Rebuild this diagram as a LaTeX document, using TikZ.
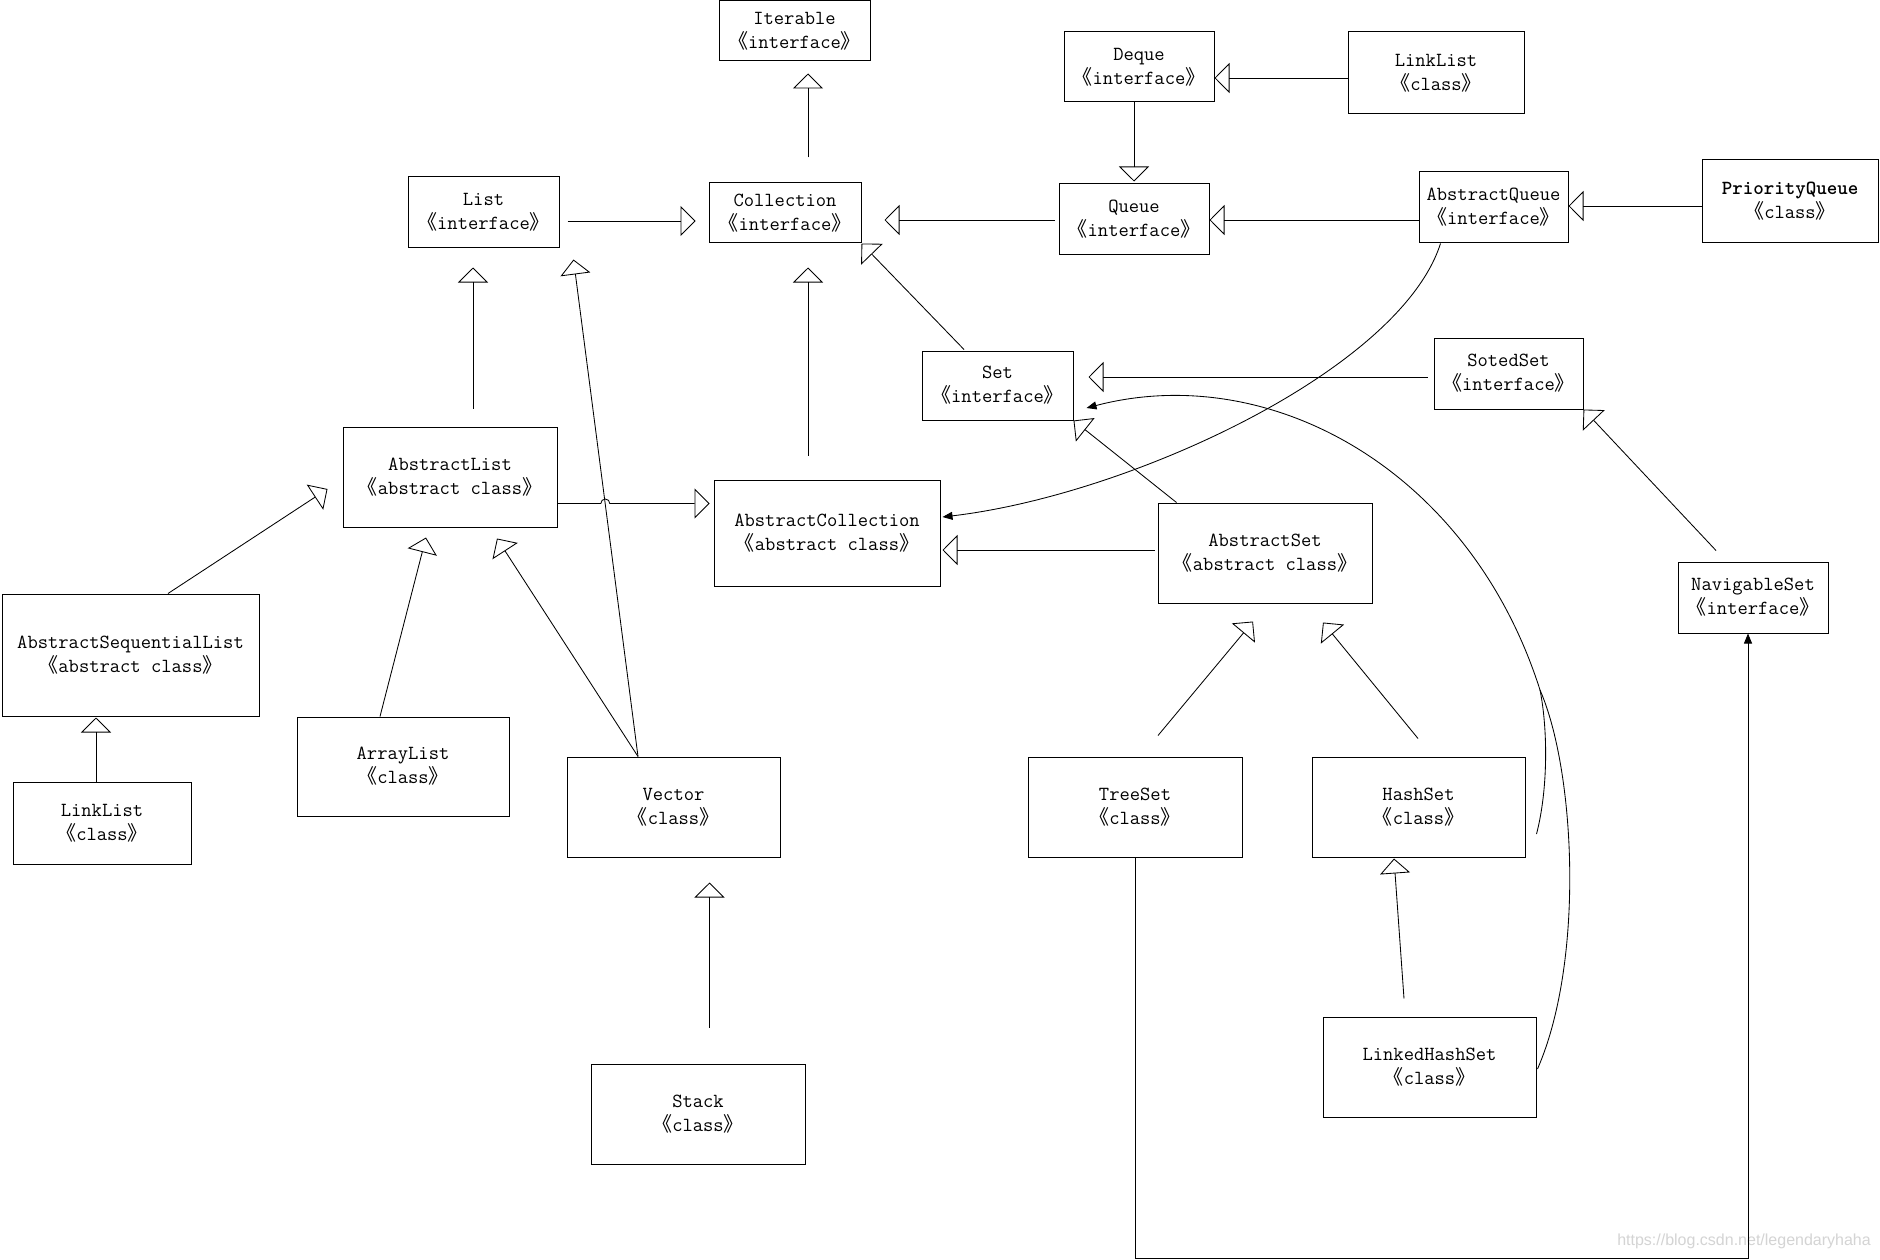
\documentclass[tikz,border=0pt]{standalone}
\usepackage{fontspec}
\newfontfamily\cjkfont{Noto Sans CJK SC}
\newfontfamily\wmfont{Liberation Sans}
\usetikzlibrary{arrows.meta,calc}
\newcommand{\lgm}{{\cjkfont 《}}
\newcommand{\rgm}{{\cjkfont 》}}
\newcommand{\cls}[2]{#1\\\lgm#2\rgm}
\begin{document}
\begin{tikzpicture}[x=1pt,y=-1pt,
  box/.style={draw, line width=1pt, inner sep=0pt, align=center,
              font=\fontsize{20}{24}\selectfont\ttfamily},
  inh/.style={line width=0.85pt, -{Triangle[open,length=15pt,width=30pt]}},
  dep/.style={line width=0.85pt, -{Triangle[length=10pt,width=8pt]}},
  plain/.style={line width=0.85pt}]
\fill[white] (0,0) rectangle (1880,1260);
\useasboundingbox (0,0) rectangle (1880,1260);

% nodes
\node[box, minimum width=151pt, minimum height=60pt] (iter)  at (794.5,31)   {\cls{Iterable}{interface}};
\node[box, minimum width=150pt, minimum height=70pt] (deque) at (1139,67)    {\cls{Deque}{interface}};
\node[box, minimum width=176pt, minimum height=82pt] (ll2)   at (1436,73)    {\cls{LinkList}{class}};
\node[box, minimum width=151pt, minimum height=71pt] (list)  at (483.5,212.5){\cls{List}{interface}};
\node[box, minimum width=152pt, minimum height=60pt] (coll)  at (785,213)    {\cls{Collection}{interface}};
\node[box, minimum width=150pt, minimum height=71pt] (queue) at (1134,219.5) {\cls{Queue}{interface}};
\node[box, minimum width=149pt, minimum height=71pt] (aq)    at (1493.5,207.5){\cls{AbstractQueue}{interface}};
\node[box, minimum width=176pt, minimum height=83pt] (pq)    at (1790,201.5) {\cls{\textbf{PriorityQueue}}{class}};
\node[box, minimum width=151pt, minimum height=69pt] (set)   at (997.5,385.5){\cls{Set}{interface}};
\node[box, minimum width=149pt, minimum height=71pt] (sset)  at (1508.5,373.5){\cls{SotedSet}{interface}};
\node[box, minimum width=214pt, minimum height=100pt] (alist) at (450,477)   {\cls{AbstractList}{abstract class}};
\node[box, minimum width=226pt, minimum height=106pt] (ac)   at (827,533)    {\cls{AbstractCollection}{abstract class}};
\node[box, minimum width=214pt, minimum height=100pt] (aset) at (1265,553)   {\cls{AbstractSet}{abstract class}};
\node[box, minimum width=150pt, minimum height=71pt] (nset)  at (1753,597.5) {\cls{NavigableSet}{interface}};
\node[box, minimum width=214pt, minimum height=100pt] (tset) at (1135,807)   {\cls{TreeSet}{class}};
\node[box, minimum width=213pt, minimum height=100pt] (hset) at (1418.5,807) {\cls{HashSet}{class}};
\node[box, minimum width=213pt, minimum height=100pt] (lhs)  at (1429.5,1067){\cls{LinkedHashSet}{class}};
\node[box, minimum width=257pt, minimum height=122pt] (asl)  at (130.5,655)  {\cls{AbstractSequentialList}{abstract class}};
\node[box, minimum width=178pt, minimum height=82pt] (ll1)   at (102,823)    {\cls{LinkList}{class}};
\node[box, minimum width=212pt, minimum height=99pt] (alst)  at (403,766.5)  {\cls{ArrayList}{class}};
\node[box, minimum width=213pt, minimum height=100pt] (vec)  at (673.5,807)  {\cls{Vector}{class}};
\node[box, minimum width=214pt, minimum height=100pt] (stack) at (698,1114)  {\cls{Stack}{class}};

% watermark
\node[font=\wmfont\fontsize{16}{16}\selectfont, text=black!17, inner sep=0pt] (wm) at (1744,1241) {https://blog.csdn.net/legendaryhaha};

% inheritance connectors
\draw[inh] ($(coll.north)+(23,-25)$) -- ($(iter.south)+(13.5,12)$);
\draw[inh] ($(ll2.west)+(0,5)$) -- ($(deque.east)+(0,11)$);
\draw[inh] ($(deque.south)+(-5,0)$) -- ($(queue.north)+(0,-2)$);
\draw[inh] ($(queue.west)+(-4,0.5)$) -- ($(coll.east)+(23,7)$);
\draw[inh] ($(aq.west)+(0,12.5)$) -- ($(queue.east)+(0,0.5)$);
\draw[inh] ($(pq.west)+(0,4.5)$) -- ($(aq.east)+(0,-1.5)$);
\draw[inh] ($(list.east)+(8,8.5)$) -- ($(coll.west)+(-13,8)$);
\draw[inh] ($(alist.north)+(23,-18)$) -- ($(list.south)+(-10.5,19)$);
\draw[inh] ($(ac.north)+(-19,-24)$) -- ($(coll.south)+(23,24)$);
\draw[inh] ($(set.north)+(-33.5,-1)$) -- (coll.south east);
\draw[inh] ($(sset.west)+(-6,3.5)$) -- ($(set.east)+(15,-8.5)$);
\draw[inh] ($(aset.north west)+(19,0)$) -- (set.south east);
\draw[inh] ($(aset.west)+(-3,-3)$) -- ($(ac.east)+(2,17)$);
\draw[inh] ($(tset.north)+(23,-21)$) -- ($(aset.south)+(-12,18)$);
\draw[inh] ($(hset.north)+(-0.5,-18)$) -- ($(aset.south)+(58,19)$);
\draw[inh] ($(lhs.north)+(-25.5,-18)$) -- ($(hset.south)+(-24.5,1)$);
\draw[inh] ($(nset.north)+(-37,-11)$) -- (sset.south east);
\draw[inh] ($(asl.north)+(37.5,0)$) -- ($(alist.west)+(-15,12)$);
\draw[inh] ($(ll1.north)+(-6,0)$) -- ($(asl.south)+(-34.5,1)$);
\draw[inh] ($(alst.north)+(-23,0)$) -- ($(alist.south)+(-24,10)$);
\draw[inh] ($(vec.north)+(-35.5,0)$) -- ($(alist.south)+(47,11)$);
\draw[inh] ($(vec.north)+(-35.5,0)$) -- ($(list.south east)+(14,11)$);
\draw[inh] ($(alist.east)+(0,26.5)$) -- ++(43.3,0) arc[start angle=180,end angle=0,radius=4.5pt] -- ($(ac.west)+(-4,-29.5)$);
\draw[inh] ($(stack.north)+(11.5,-36)$) -- ($(vec.south)+(36,25)$);

% association connectors
\draw[dep] ($(aq.south west)+(22,0)$) .. controls (1400,370) and (1130,495) .. ($(ac.east)+(2,-16)$);
\draw[dep] (tset.south) -- ++(0,401) -| ($(nset.south)+(-5,0)$);
\coordinate (J) at (1540,690);
\draw[dep] (J) .. controls (1470,470) and (1270,360) .. ($(set.east)+(13,22.5)$);
\draw[plain] ($(lhs.east)+(1,2)$) .. controls (1585,960) and (1575,770) .. (J);
\draw[plain] ($(hset.east)+(11,27)$) .. controls (1548,790) and (1548,730) .. (J);
\end{tikzpicture}
\end{document}
